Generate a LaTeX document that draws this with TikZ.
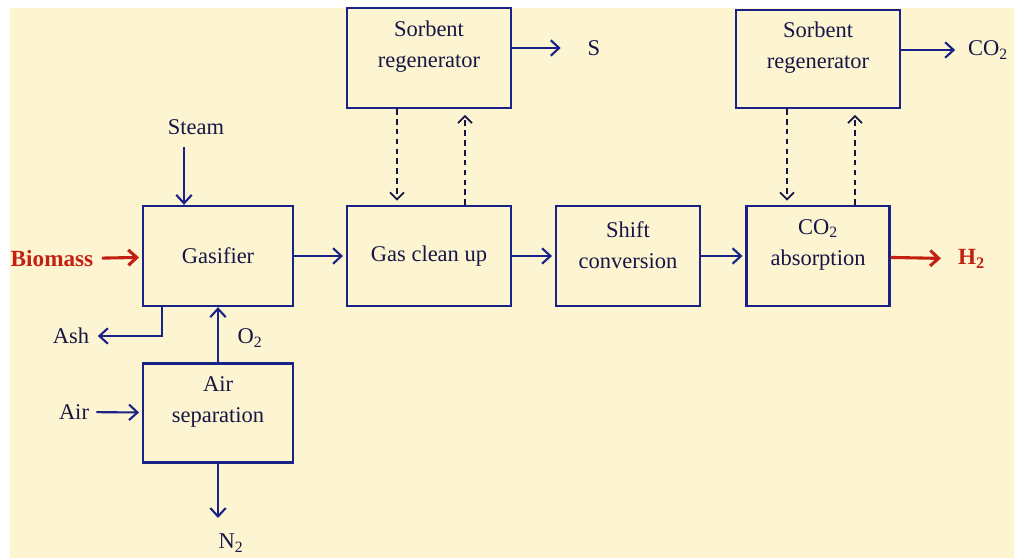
\documentclass[tikz,border=0pt]{standalone}
\usepackage{fontspec}
\setmainfont{Liberation Serif}
\usetikzlibrary{arrows.meta}
\definecolor{cream}{RGB}{253,245,210}
\definecolor{navy}{RGB}{25,35,135}
\definecolor{ink}{RGB}{22,22,70}
\definecolor{brick}{RGB}{195,32,18}
\begin{document}
\begin{tikzpicture}[x=0.025cm,y=-0.025cm,
    unit/.style={draw=navy,line width=1.6pt,minimum width=3.75cm,minimum height=2.5cm,
                 font=\fontsize{16}{22}\selectfont,text=ink,align=center},
    txt/.style={font=\fontsize{16}{22}\selectfont,text=ink,align=center,inner sep=2pt},
    feed/.style={txt,text=brick,font=\fontsize{16.5}{22}\selectfont\bfseries},
    flow/.style={draw=navy,line width=1.5pt,-{Straight Barb[length=6pt,width=11pt]}},
    redflow/.style={draw=brick,line width=2.2pt,-{Straight Barb[length=6pt,width=11pt]}},
    recycle/.style={draw=ink,line width=1.3pt,dash pattern=on 4pt off 3pt,
                    -{Straight Barb[length=5pt,width=10pt]}}]
\fill[white] (0,0) rectangle (1014,558);
\fill[cream] (10,8) rectangle (1014,558);
\useasboundingbox (0,0) rectangle (1014,558);
% units
\node[unit] (gasif) at (218,256) {Gasifier};
\node[unit,minimum width=4.1cm] (gclean) at (429,256) {Gas clean up};
\node[unit,minimum width=3.6cm] (shift) at (628,256) {};
\node[txt] (shiftt) at ([yshift=8pt]shift.center) {Shift\\conversion};
\node[unit,minimum width=3.575cm] (absorb) at (818,256) {};
\node[txt] (absorbt) at ([yshift=8pt]absorb.center) {CO\textsubscript{2}\\absorption};
\node[unit,minimum width=4.1cm] (sreg1) at (429,58) {};
\node[txt] (sreg1t) at ([yshift=8pt]sreg1.center) {Sorbent\\regenerator};
\node[unit,minimum width=4.1cm,minimum height=2.45cm] (sreg2) at (818,59) {};
\node[txt] (sreg2t) at ([yshift=8pt]sreg2.center) {Sorbent\\regenerator};
\node[unit,minimum height=2.475cm] (airsep) at (218,413) {};
\node[txt] (airsept) at ([yshift=8pt]airsep.center) {Air\\separation};
% streams
\node[feed] (biomass) at (52,259) {Biomass};
\node[feed,anchor=west] (h2) at (955,259) {H\textsubscript{2}};
\node[txt] (steam) at (196,127) {Steam};
\node[txt] (ash) at (71,336) {Ash};
\node[txt] (o2) at (250,338) {O\textsubscript{2}};
\node[txt] (air) at (74,412) {Air};
\node[txt] (n2) at (231,543) {N\textsubscript{2}};
\coordinate (n2tip) at (218,518);
\node[txt] (s) at (594,48) {S};
\node[txt,anchor=west] (co2) at (965,50) {CO\textsubscript{2}};

\draw[redflow,shorten <=4pt,shorten >=2pt] (biomass) -- (gasif);
\draw[redflow,shorten >=10pt] (absorb) -- (h2);
\draw[flow,shorten <=7pt] (steam.south -| 184,0) -- (gasif.north -| 184,0);
\draw[flow,shorten >=4pt] (gasif.south -| 162,0) |- (ash);
\draw[flow] (airsep) -- (gasif);
\draw[flow,shorten <=3pt,shorten >=2pt] (air) -- (airsep);
\draw[flow] (airsep) -- (n2tip);
\draw[flow,shorten >=2pt] (gasif) -- (gclean);
\draw[flow,shorten >=2pt] (gclean) -- (shift);
\draw[flow,shorten >=2pt] (shift) -- (absorb);
\draw[flow,shorten >=17pt] (sreg1.east |- s) -- (s);
\draw[flow,shorten >=7pt] (sreg2.east |- co2) -- (co2);
\draw[recycle,shorten >=3pt] (sreg1.south -| 397,0) -- (gclean.north -| 397,0);
\draw[recycle,shorten >=4pt] (gclean.north -| 465,0) -- (sreg1.south -| 465,0);
\draw[recycle,shorten >=3pt] (sreg2.south -| 787,0) -- (absorb.north -| 787,0);
\draw[recycle,shorten >=4pt] (absorb.north -| 855,0) -- (sreg2.south -| 855,0);
\end{tikzpicture}
\end{document}
